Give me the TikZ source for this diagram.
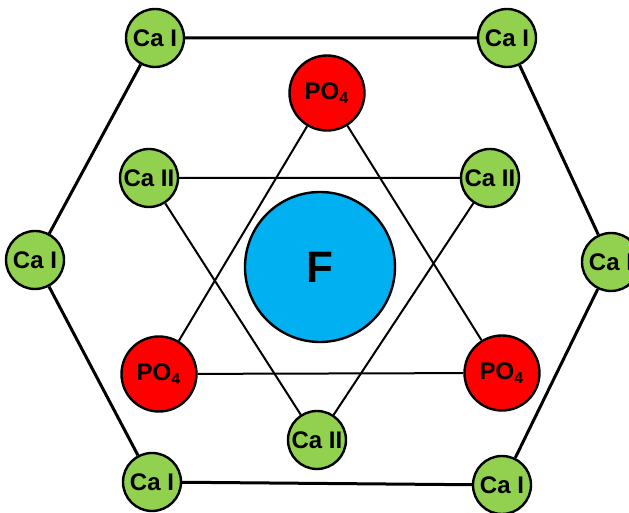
\documentclass[tikz,border=0pt]{standalone}
\usepackage{fontspec}
\setmainfont{Liberation Sans}
\definecolor{cagreen}{HTML}{92D050}
\definecolor{pored}{HTML}{FF0000}
\definecolor{fblue}{HTML}{00B0F0}

\begin{document}
\begin{tikzpicture}[x=0.5pt, y=-0.5pt,
  atom/.style={circle, draw=black, line width=1.2pt, inner sep=0pt,
    font=\bfseries\fontsize{12}{14}\selectfont},
  ca/.style={atom, fill=cagreen, minimum size=29pt},
  po/.style={atom, fill=pored, minimum size=37.5pt},
  fl/.style={atom, fill=fblue, minimum size=75pt,
    font=\bfseries\fontsize{22}{26}\selectfont},
  outer/.style={line width=1.5pt},
  inner/.style={line width=1pt}]
\useasboundingbox (0,0) rectangle (629,513);
\clip (0,0) rectangle (629,513);
\node[ca] (caiTL) at (155,38) {Ca I};
\node[ca] (caiTR) at (507,38) {Ca I};
\node[ca] (caiL) at (35,260) {Ca I};
\node[ca] (caiR) at (611,262) {Ca I};
\node[ca] (caiBL) at (152,482) {Ca I};
\node[ca] (caiBR) at (502,485) {Ca I};
\node[po] (poT) at (327,93) {PO\textsubscript{4}};
\node[po] (poL) at (159,374) {PO\textsubscript{4}};
\node[po] (poR) at (502,373) {PO\textsubscript{4}};
\node[ca] (caiiL) at (149,178) {Ca II};
\node[ca] (caiiR) at (490,178) {Ca II};
\node[ca] (caiiB) at (317,440) {Ca II};
\node[fl] (f) at (320,267) {F};
\draw[outer] (caiTL) -- (caiTR) -- (caiR) -- (caiBR) -- (caiBL) -- (caiL) -- (caiTL);
\draw[inner] (poT) -- (poR) -- (poL) -- (poT);
\draw[inner] (caiiL) -- (caiiR) -- (caiiB) -- (caiiL);
\end{tikzpicture}
\end{document}
